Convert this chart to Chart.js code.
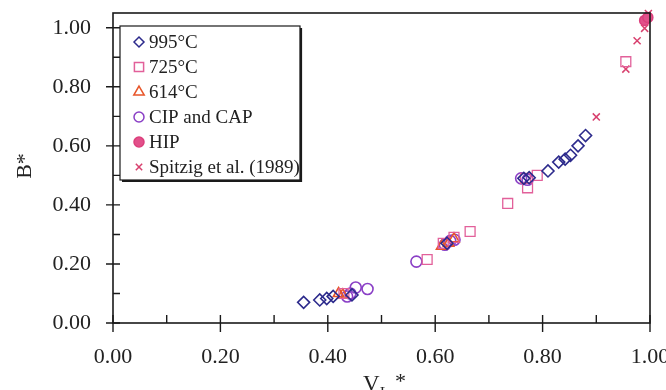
<!DOCTYPE html>
<html>
<head>
<meta charset="utf-8">
<script src="https://cdn.jsdelivr.net/npm/chart.js@4.4.1/dist/chart.umd.min.js"></script>
<style>
  html, body { margin: 0; padding: 0; background: #ffffff; }
  #wrap { width: 666px; height: 390px; position: relative; }
</style>
</head>
<body>
<div id="wrap"><canvas id="bChart" width="666" height="390"></canvas></div>
<script>
// series: [V_L*, B*]
const seriesLabels = ['995\u00B0C', '725\u00B0C', '614\u00B0C', 'CIP and CAP', 'HIP', 'Spitzig et al. (1989)'];

const x995 = [0.355, 0.385, 0.398, 0.410, 0.445, 0.622, 0.765, 0.775, 0.810, 0.830, 0.842, 0.852, 0.866, 0.880];
const y995 = [0.070, 0.078, 0.083, 0.090, 0.095, 0.270, 0.490, 0.492, 0.515, 0.545, 0.555, 0.568, 0.600, 0.635];

const x725 = [0.430, 0.585, 0.615, 0.635, 0.665, 0.735, 0.768, 0.772, 0.790, 0.955];
const y725 = [0.100, 0.215, 0.270, 0.290, 0.310, 0.405, 0.490, 0.458, 0.500, 0.885];

const x614 = [0.420, 0.428, 0.612, 0.625, 0.635];
const y614 = [0.100, 0.095, 0.260, 0.270, 0.285];

const xCip = [0.436, 0.442, 0.452, 0.474, 0.565, 0.618, 0.628, 0.636, 0.760, 0.772];
const yCip = [0.090, 0.100, 0.120, 0.115, 0.208, 0.265, 0.278, 0.282, 0.490, 0.485];

const xHip = [0.990, 0.996];
const yHip = [1.025, 1.035];

const xSpitzig = [0.900, 0.955, 0.976, 0.990, 0.997];
const ySpitzig = [0.698, 0.860, 0.956, 0.998, 1.048];

const xTicks = [0, 0.1, 0.2, 0.3, 0.4, 0.5, 0.6, 0.7, 0.8, 0.9, 1.0];
const yTicks = [0, 0.1, 0.2, 0.3, 0.4, 0.5, 0.6, 0.7, 0.8, 0.9, 1.0];

const serif = "'Liberation Serif', 'DejaVu Serif', serif";

function pts(xs, ys) {
    return xs.map((x, i) => ({ x: x, y: ys[i] }));
}

function isMajor(v) {
    return Math.round(v * 10) % 2 === 0;
}

// frame, tick marks, axis titles and legend box
const decorations = {
    id: 'decorations',
    afterDraw(chart) {
        const { ctx, chartArea } = chart;
        const xs = chart.scales.x;
        const ys = chart.scales.y;
        const l = chartArea.left, r = chartArea.right, t = chartArea.top, b = chartArea.bottom;

        ctx.save();
        ctx.strokeStyle = '#1a1a1a';
        ctx.lineWidth = 1.6;
        ctx.strokeRect(l, t, r - l, b - t);

        ctx.lineWidth = 1.4;
        ctx.beginPath();
        xTicks.forEach(v => {
            const px = xs.getPixelForValue(v);
            if (isMajor(v)) {
                ctx.moveTo(px, b - 8);
                ctx.lineTo(px, b + 9);
            } else {
                ctx.moveTo(px, b - 8);
                ctx.lineTo(px, b);
            }
        });
        yTicks.forEach(v => {
            const py = ys.getPixelForValue(v);
            if (isMajor(v)) {
                ctx.moveTo(l - 7, py);
                ctx.lineTo(l + 7, py);
            } else {
                ctx.moveTo(l, py);
                ctx.lineTo(l + 7, py);
            }
        });
        ctx.stroke();

        // axis titles
        ctx.fillStyle = '#222222';
        ctx.font = '22px ' + serif;
        ctx.textAlign = 'center';
        ctx.textBaseline = 'middle';
        ctx.save();
        ctx.translate(25, 166);
        ctx.rotate(-Math.PI / 2);
        ctx.fillText('B*', 0, 0);
        ctx.restore();

        ctx.textAlign = 'left';
        ctx.textBaseline = 'alphabetic';
        ctx.font = '23px ' + serif;
        ctx.fillText('V', 363, 391);
        ctx.font = '15px ' + serif;
        ctx.fillText('L', 380, 397);
        ctx.font = '22px ' + serif;
        ctx.fillText('*', 395, 388);

        // legend
        const bx = 120, by = 26, bw = 180, bh = 154;
        ctx.fillStyle = '#ffffff';
        ctx.fillRect(bx, by, bw, bh);
        ctx.strokeStyle = '#1a1a1a';
        ctx.lineWidth = 1.2;
        ctx.strokeRect(bx, by, bw, bh);
        ctx.lineWidth = 2.2;
        ctx.beginPath();
        ctx.moveTo(bx + 2, by + bh + 1);
        ctx.lineTo(bx + bw + 1, by + bh + 1);
        ctx.lineTo(bx + bw + 1, by + 2);
        ctx.stroke();

        ctx.font = '19px ' + serif;
        ctx.textBaseline = 'middle';
        chart.data.datasets.forEach((ds, i) => {
            const cy = by + 16 + i * 25;
            ctx.save();
            ctx.strokeStyle = ds.borderColor;
            ctx.fillStyle = ds.backgroundColor;
            ctx.lineWidth = 1.5;
            Chart.helpers.drawPoint(ctx, {
                pointStyle: ds.pointStyle,
                radius: ds.legendRadius,
                borderWidth: 1.5
            }, bx + 19, cy);
            ctx.restore();
            ctx.fillStyle = '#222222';
            ctx.fillText(ds.label, bx + 29, cy + 1);
        });
        ctx.restore();
    }
};

const ctx = document.getElementById('bChart').getContext('2d');

new Chart(ctx, {
    type: 'scatter',
    data: {
        datasets: [
            {
                label: seriesLabels[0],
                data: pts(x995, y995),
                pointStyle: 'rectRot',
                pointRadius: 6,
                legendRadius: 5,
                borderColor: '#2c2a8c',
                backgroundColor: 'rgba(0,0,0,0)',
                borderWidth: 1.6
            },
            {
                label: seriesLabels[1],
                data: pts(x725, y725),
                pointStyle: 'rect',
                pointRadius: 7,
                legendRadius: 6.5,
                borderColor: '#e2609a',
                backgroundColor: 'rgba(0,0,0,0)',
                borderWidth: 1.3
            },
            {
                label: seriesLabels[2],
                data: pts(x614, y614),
                pointStyle: 'triangle',
                pointRadius: 6,
                legendRadius: 6,
                borderColor: '#e8562a',
                backgroundColor: 'rgba(0,0,0,0)',
                borderWidth: 1.6
            },
            {
                label: seriesLabels[3],
                data: pts(xCip, yCip),
                pointStyle: 'circle',
                pointRadius: 5.5,
                legendRadius: 5,
                borderColor: '#8a3fc6',
                backgroundColor: 'rgba(0,0,0,0)',
                borderWidth: 1.6
            },
            {
                label: seriesLabels[4],
                data: pts(xHip, yHip),
                pointStyle: 'circle',
                pointRadius: 5,
                legendRadius: 5,
                borderColor: '#dc3f7c',
                backgroundColor: '#e2508a',
                borderWidth: 1.5
            },
            {
                label: seriesLabels[5],
                data: pts(xSpitzig, ySpitzig),
                pointStyle: 'crossRot',
                pointRadius: 5,
                legendRadius: 4.5,
                borderColor: '#d8406e',
                backgroundColor: '#d8406e',
                borderWidth: 1.5
            }
        ]
    },
    options: {
        responsive: false,
        animation: false,
        clip: false,
        layout: {
            padding: { top: 13, right: 16, left: 0, bottom: 0 }
        },
        plugins: {
            legend: { display: false },
            tooltip: { enabled: false }
        },
        scales: {
            x: {
                type: 'linear',
                min: 0,
                max: 1.0,
                grid: { display: false },
                border: { display: false },
                afterBuildTicks: scale => {
                    scale.ticks = xTicks.map(v => ({ value: v }));
                },
                afterFit: scale => {
                    scale.height = 67;
                    scale.paddingLeft = 0;
                    scale.paddingRight = 0;
                },
                ticks: {
                    autoSkip: false,
                    maxRotation: 0,
                    padding: 13,
                    color: '#222222',
                    font: { family: serif, size: 22 },
                    callback: v => (isMajor(v) ? v.toFixed(2) : '')
                }
            },
            y: {
                type: 'linear',
                min: 0,
                max: 1.05,
                grid: { display: false },
                border: { display: false },
                afterBuildTicks: scale => {
                    scale.ticks = yTicks.map(v => ({ value: v }));
                },
                afterFit: scale => {
                    scale.width = 113;
                    scale.paddingTop = 0;
                    scale.paddingBottom = 0;
                },
                ticks: {
                    autoSkip: false,
                    padding: 14,
                    color: '#222222',
                    font: { family: serif, size: 22 },
                    callback: v => (isMajor(v) ? v.toFixed(2) : '')
                }
            }
        }
    },
    plugins: [decorations]
});
</script>
</body>
</html>
